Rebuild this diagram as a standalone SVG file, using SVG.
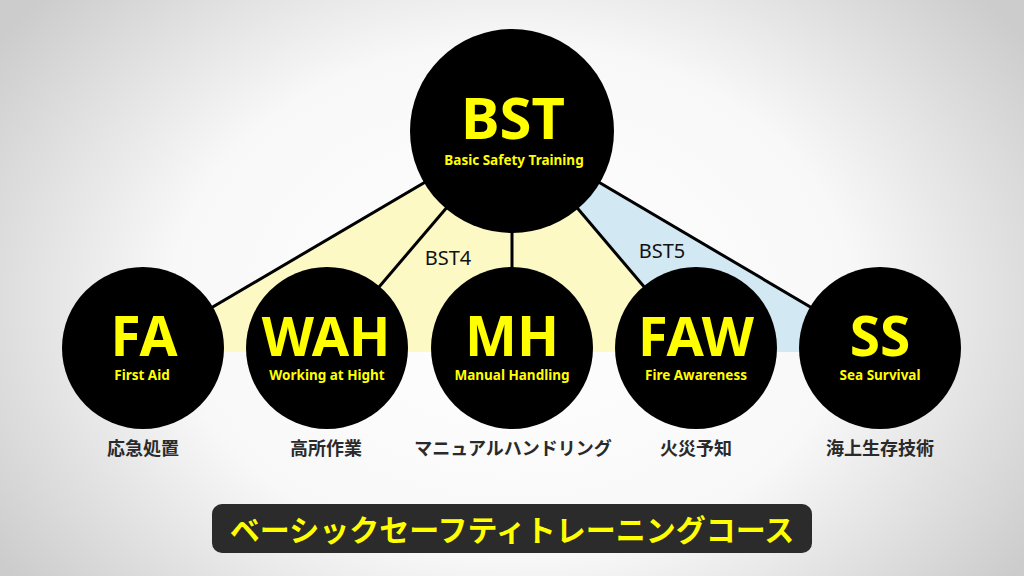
<svg xmlns="http://www.w3.org/2000/svg" width="1024" height="576" viewBox="0 0 1024 576">
  <defs>
    <radialGradient id="bg" cx="512" cy="300" r="620" gradientUnits="userSpaceOnUse" gradientTransform="translate(512 300) scale(1 0.75) translate(-512 -300)">
      <stop offset="0" stop-color="#ffffff"/>
      <stop offset="0.55" stop-color="#f8f8f8"/>
      <stop offset="1" stop-color="#cccccc"/>
    </radialGradient>
    <style>
      .node { fill: #000000; }
      .abbr { font-family: "Noto Sans", "Open Sans", sans-serif; font-weight: 700; fill: #ffff00; text-anchor: middle; }
      .sub { font-family: "Noto Sans", "Open Sans", sans-serif; font-weight: 700; font-size: 13.5px; fill: #ffff00; text-anchor: middle; }
      .jp { font-family: "Noto Sans CJK JP", sans-serif; font-weight: 700; font-size: 18px; fill: #2a2a2a; text-anchor: middle; }
      .grp { font-family: "Noto Sans", "Open Sans", sans-serif; font-size: 20px; fill: #111111; text-anchor: middle; }
      .link { stroke: #000000; stroke-width: 3; fill: none; }
    </style>
  </defs>
  <rect x="0" y="0" width="1024" height="576" fill="url(#bg)"/>

  <g id="regions">
    <polygon points="512,131 136,352 699,352" fill="#fdf9c4"/>
    <polygon points="512,131 699,352 887,352" fill="#d2e8f3"/>
  </g>

  <g id="connectors">
    <line class="link" x1="512" y1="131" x2="143" y2="348"/>
    <line class="link" x1="512" y1="131" x2="327" y2="348"/>
    <line class="link" x1="512" y1="131" x2="512" y2="348"/>
    <line class="link" x1="512" y1="131" x2="696" y2="348"/>
    <line class="link" x1="512" y1="131" x2="880" y2="348"/>
  </g>

  <g id="label-bst4"><text class="grp" x="448" y="265">BST4</text></g>
  <g id="label-bst5"><text class="grp" x="662" y="258">BST5</text></g>

  <g id="node-bst">
    <circle class="node" cx="512" cy="131" r="102"/>
    <text class="abbr" x="513" y="139" font-size="58">BST</text>
    <text class="sub" x="514" y="165" font-size="14">Basic Safety Training</text>
  </g>

  <g id="node-fa">
    <circle class="node" cx="143" cy="348" r="81"/>
    <text class="abbr" x="144" y="356" font-size="55">FA</text>
    <text class="sub" x="142" y="380">First Aid</text>
    <text class="jp" x="143" y="455">応急処置</text>
  </g>

  <g id="node-wah">
    <circle class="node" cx="327" cy="348" r="81"/>
    <text class="abbr" x="326" y="356" font-size="54">WAH</text>
    <text class="sub" x="327" y="380">Working at Hight</text>
    <text class="jp" x="326" y="455">高所作業</text>
  </g>

  <g id="node-mh">
    <circle class="node" cx="512" cy="348" r="81"/>
    <text class="abbr" x="512" y="356" font-size="55">MH</text>
    <text class="sub" x="512" y="380">Manual Handling</text>
    <text class="jp" x="513" y="455">マニュアルハンドリング</text>
  </g>

  <g id="node-faw">
    <circle class="node" cx="696" cy="348" r="81"/>
    <text class="abbr" x="696" y="356" font-size="54">FAW</text>
    <text class="sub" x="696" y="380">Fire Awareness</text>
    <text class="jp" x="696" y="455">火災予知</text>
  </g>

  <g id="node-ss">
    <circle class="node" cx="880" cy="348" r="81"/>
    <text class="abbr" x="880" y="356" font-size="55">SS</text>
    <text class="sub" x="880" y="380">Sea Survival</text>
    <text class="jp" x="880" y="455">海上生存技術</text>
  </g>

  <g id="banner">
    <rect x="212" y="504" width="600" height="49" rx="10" ry="10" fill="#2b2b2b"/>
    <text x="512" y="541" font-family="Noto Sans CJK JP, sans-serif" font-weight="700" font-size="30" fill="#ffff00" text-anchor="middle">ベーシックセーフティトレーニングコース</text>
  </g>
</svg>
